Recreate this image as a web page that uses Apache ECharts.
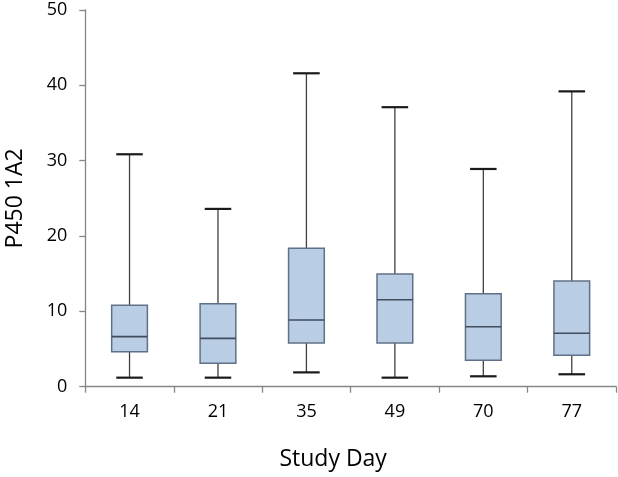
<!DOCTYPE html>
<html>
<head>
<meta charset="utf-8">
<script src="https://cdn.jsdelivr.net/npm/echarts@6/dist/echarts.min.js"></script>
<style>html,body{margin:0;padding:0;background:#fff;}#c{width:618px;height:477px;}</style>
</head>
<body>
<div id="c"></div>
<script>
var categories = ['14', '21', '35', '49', '70', '77'];
var mins    = [1.2, 1.2, 1.9, 1.2, 1.38, 1.65];
var q1s     = [4.65, 3.1, 5.8, 5.8, 3.5, 4.17];
var medians = [6.64, 6.42, 8.85, 11.55, 7.96, 7.09];
var q3s     = [10.8, 11.0, 18.37, 14.96, 12.35, 14.03];
var maxs    = [30.85, 23.6, 41.6, 37.1, 28.9, 39.2];
var yTicks  = [0, 10, 20, 30, 40, 50];

var data = categories.map(function (c, i) {
  return [i, mins[i], q1s[i], medians[i], q3s[i], maxs[i]];
});

var FONT = '"Open Sans", "DejaVu Sans", sans-serif';
var chart = echarts.init(document.getElementById('c'));
chart.setOption({
  animation: false,
  backgroundColor: '#ffffff',
  grid: { left: 85.3, right: 2, top: 10, bottom: 90.3, containLabel: false, outerBoundsMode: 'none' },
  xAxis: {
    type: 'category',
    data: categories,
    boundaryGap: true,
    name: 'Study Day',
    nameLocation: 'middle',
    nameGap: 61,
    nameTextStyle: { fontFamily: FONT, fontSize: 23, color: '#000', padding: [0, 35, 0, 0] },
    axisLine: { lineStyle: { color: '#868686', width: 1.3 } },
    axisTick: { show: true, length: 6, lineStyle: { color: '#868686', width: 1.3 } },
    axisLabel: { fontFamily: FONT, fontSize: 18, color: '#000', margin: 16 },
    splitLine: { show: false }
  },
  yAxis: {
    type: 'value',
    min: yTicks[0],
    max: yTicks[yTicks.length - 1],
    interval: 10,
    name: 'P450 1A2',
    nameLocation: 'middle',
    nameGap: 58,
    nameTextStyle: { fontFamily: FONT, fontSize: 23, color: '#000' },
    axisLine: { show: true, lineStyle: { color: '#868686', width: 1.3 } },
    axisTick: { show: true, length: 6, lineStyle: { color: '#868686', width: 1.3 } },
    axisLabel: { fontFamily: FONT, fontSize: 18, color: '#000', margin: 18 },
    splitLine: { show: false }
  },
  series: [{
    type: 'custom',
    data: data,
    encode: { x: 0, y: [1, 2, 3, 4, 5] },
    renderItem: function (params, api) {
      var idx = api.value(0);
      var band = api.size([1, 0])[0];
      var boxW = band * 0.404;
      var capW = band * 0.30;
      var pMin = api.coord([idx, api.value(1)]);
      var pQ1 = api.coord([idx, api.value(2)]);
      var pMed = api.coord([idx, api.value(3)]);
      var pQ3 = api.coord([idx, api.value(4)]);
      var pMax = api.coord([idx, api.value(5)]);
      var cx = pMin[0];
      var wStyle = { stroke: '#404040', lineWidth: 1.3 };
      var capStyle = { stroke: '#1a1a1a', lineWidth: 2.2 };
      return {
        type: 'group',
        children: [
          { type: 'line', shape: { x1: cx, y1: pMax[1], x2: cx, y2: pQ3[1] }, style: wStyle },
          { type: 'line', shape: { x1: cx, y1: pQ1[1], x2: cx, y2: pMin[1] }, style: wStyle },
          { type: 'line', shape: { x1: cx - capW / 2, y1: pMax[1], x2: cx + capW / 2, y2: pMax[1] }, style: capStyle },
          { type: 'line', shape: { x1: cx - capW / 2, y1: pMin[1], x2: cx + capW / 2, y2: pMin[1] }, style: capStyle },
          { type: 'rect', shape: { x: cx - boxW / 2, y: pQ3[1], width: boxW, height: pQ1[1] - pQ3[1] },
            style: { fill: '#b9cde5', stroke: '#5f7186', lineWidth: 1.5 } },
          { type: 'line', shape: { x1: cx - boxW / 2, y1: pMed[1], x2: cx + boxW / 2, y2: pMed[1] },
            style: { stroke: '#3f4d5e', lineWidth: 1.6 } }
        ]
      };
    }
  }]
});
</script>
</body>
</html>
